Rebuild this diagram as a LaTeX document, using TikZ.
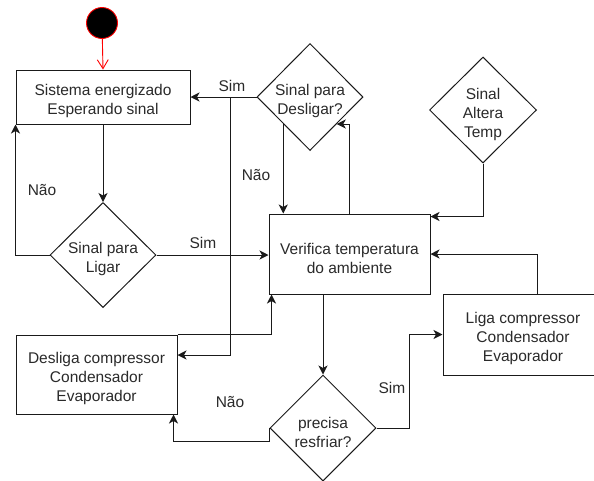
\documentclass[tikz,border=0pt]{standalone}
\usepackage{fontspec}
\setmainfont{Liberation Sans}
\usetikzlibrary{shapes.geometric,arrows.meta}
\definecolor{txt}{HTML}{2A2A2A}
\definecolor{ln}{HTML}{1A1A1A}
\definecolor{startred}{HTML}{FF0000}
\tikzset{
  box/.style={draw=ln, line width=1pt, rectangle, inner sep=0pt},
  dia/.style={draw=ln, line width=1pt, diamond, inner sep=0pt},
  dtext/.style={align=center, text=txt, font=\fontsize{15.5}{19}\selectfont, yshift=-4pt},
  lbl/.style={text=txt, font=\fontsize{15.5}{19}\selectfont, inner sep=0pt},
  arr/.style={draw=ln, line width=1pt, -{Stealth[length=9pt,width=9pt,inset=2.5pt]}},
}
\begin{document}
\begin{tikzpicture}[x=1pt,y=-1pt]
\useasboundingbox (0,0) rectangle (594,480);
\fill[white] (0,0) rectangle (594,480);

% start
\node[circle, fill=black, draw=startred, line width=0.9pt, minimum size=31pt, inner sep=0pt] (start) at (102,23) {};

% boxes
\node[box, minimum width=174pt, minimum height=54pt, label={[dtext]center:Sistema energizado\\Esperando sinal}] (box1) at (103,97) {};
\node[box, minimum width=161pt, minimum height=80pt, label={[dtext]center:Verifica temperatura\\do ambiente}] (ver) at (349.5,254) {};
\node[box, minimum width=161pt, minimum height=79pt, label={[dtext]center:Desliga compressor\\Condensador\\Evaporador}] (desl) at (96.5,374.5) {};
\node[box, minimum width=160pt, minimum height=81pt, label={[dtext]center:Liga compressor\\Condensador\\Evaporador}] (liga) at (523,334.5) {};

% diamonds
\node[dia, minimum width=106pt, minimum height=105pt, label={[dtext]center:Sinal para\\Ligar}] (ligar) at (103,255) {};
\node[dia, minimum width=106pt, minimum height=107pt, label={[dtext]center:Sinal para\\Desligar?}] (desg) at (310,97) {};
\node[dia, minimum width=107pt, minimum height=106pt, label={[dtext]center:Sinal\\Altera\\Temp}] (alt) at (483,110) {};
\node[dia, minimum width=106pt, minimum height=106pt, label={[dtext]center:precisa\\resfriar?}] (prec) at (323,428) {};

\coordinate (j1) at (230,97);

% connectors
\draw[startred, line width=0.9pt, -{Straight Barb[length=9pt,width=11pt]}] (start) -- (box1.north);
\draw[arr] (box1.south) -- (ligar.north);
\draw[arr] (ligar.west) -| (box1.south west);
\draw[arr] (ligar.east) -- (ligar.east -| ver.west);
\draw[arr] (desg.west) -- (box1.east);
\draw[arr] (j1) |- (desl.east |- {(0,355)});
\draw[arr] (desg.south west) -- (desg.south west |- ver.north);
\draw[arr] (ver.north) |- (desg.south east);
\draw[arr] (alt.south) |- ([yshift=-3pt]ver.north east);
\draw[arr] ([xshift=14pt]liga.north) |- (ver.east);
\draw[arr] (ver.south -| prec.north) -- (prec.north);
\draw[arr] (prec.east) -- ++(33,0) |- (liga.west);
\draw[arr] (prec.west) -- ++(0,13) -| ([xshift=-4pt]desl.south east);
\draw[arr] (desl.north east) -| ([xshift=3pt]ver.south west);

% labels
\node[lbl] (l1) at (42,190) {Não};
\node[lbl] (l2) at (203,243) {Sim};
\node[lbl] (l3) at (232,86) {Sim};
\node[lbl] (l4) at (256,175) {Não};
\node[lbl] (l5) at (392,388) {Sim};
\node[lbl] (l6) at (230,402) {Não};
\end{tikzpicture}
\end{document}
